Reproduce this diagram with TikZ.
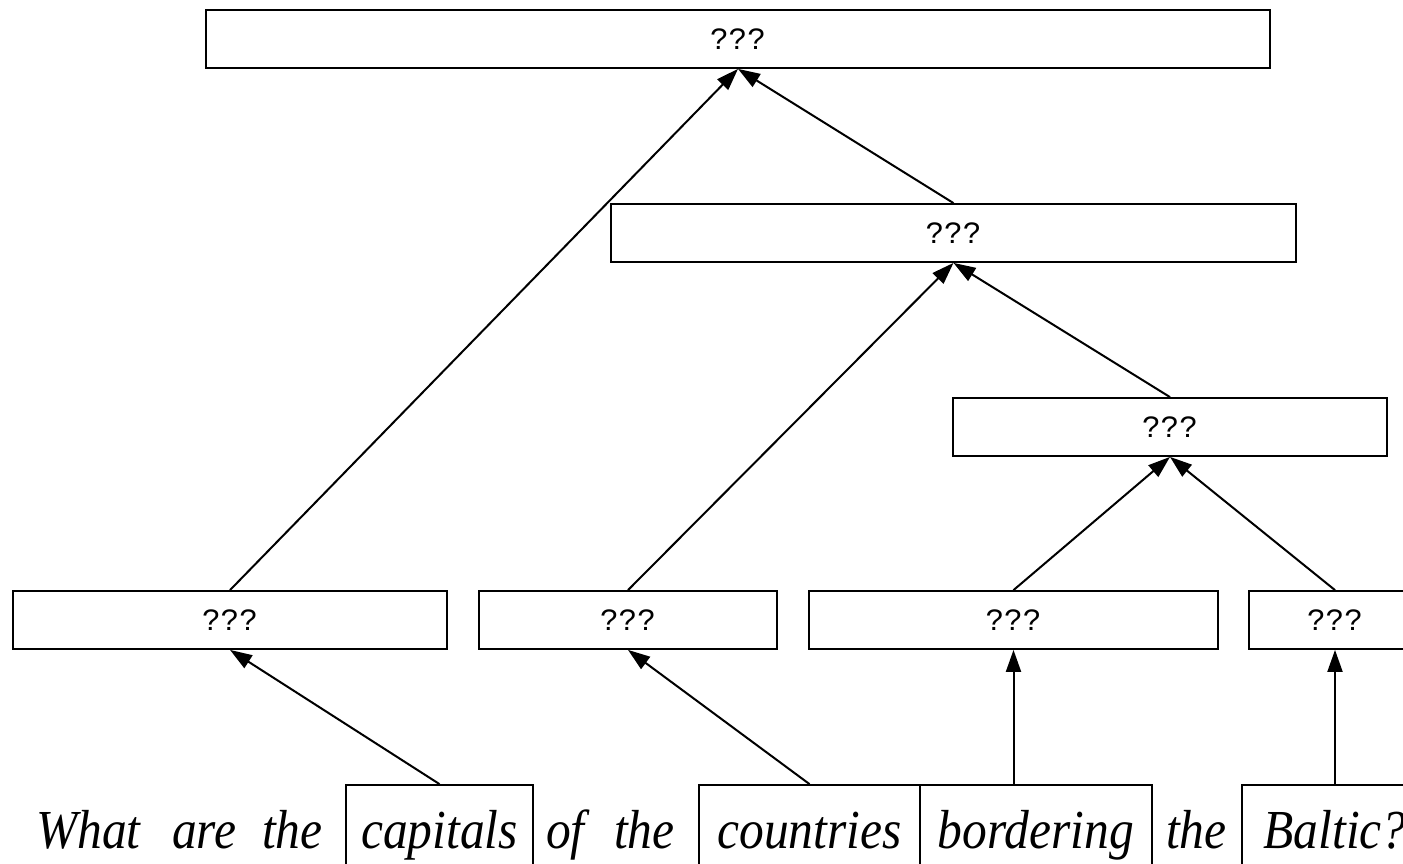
\documentclass[tikz,border=0pt]{standalone}
\usepackage{fontspec}
\setmainfont{Liberation Serif}
\newfontfamily\qfont{Liberation Mono}
\usetikzlibrary{arrows.meta}
\newcommand{\sw}[1]{\scalebox{0.9}[1]{#1}}
\begin{document}
\begin{tikzpicture}[x=1pt,y=-1pt,
  qbox/.style={draw, line width=1.8pt, minimum height=58pt, inner sep=0pt, font=\qfont\fontsize{31}{33}\selectfont},
  wordbox/.style={draw, line width=1.8pt, inner sep=0pt, anchor=base, text height=63pt, text depth=60pt, font=\fontsize{55}{60}\selectfont\itshape},
  word/.style={inner sep=0pt, anchor=base west, font=\fontsize{55}{60}\selectfont\itshape},
  arr/.style={line width=2pt, -{Triangle[length=22pt,width=15pt]}}]
\useasboundingbox (0,0) rectangle (1403,864);
\clip (0,0) rectangle (1403,864);
% ??? boxes
\node[qbox, minimum width=1064pt] (top) at (738,39) {???};
\node[qbox, minimum width=685pt] (mid) at (953.5,233) {???};
\node[qbox, minimum width=434pt] (b3top) at (1170,427) {???};
\node[qbox, minimum width=434pt] (q1) at (230,620) {???};
\node[qbox, minimum width=298pt] (q2) at (628,620) {???};
\node[qbox, minimum width=409pt] (q3) at (1013.5,620) {???};
\node[qbox, minimum width=172pt] (q4) at (1335,620) {???};
% sentence
\node[word] (w1) at (36,848) {\sw{What}};
\node[word] (w2) at (172,848) {\sw{are}};
\node[word] (w3) at (262,848) {\sw{the}};
\node[wordbox, minimum width=187pt] (capitals) at (439.5,848) {\sw{capitals}};
\node[word] (w5) at (546,848) {\sw{of}};
\node[word] (w6) at (614,848) {\sw{the}};
\node[wordbox, minimum width=221pt] (countries) at (809.5,848) {\sw{countries}};
\node[wordbox, minimum width=232pt] (bordering) at (1036,848) {\sw{bordering}};
\node[word] (w9) at (1166,848) {\sw{the}};
\node[wordbox, minimum width=186pt] (baltic) at (1335,848) {\sw{Baltic?}};
% connectors
\draw[arr] (capitals.north) -- (q1.south);
\draw[arr] (countries.north) -- (q2.south);
\draw[arr] (bordering.north -| q3.south) -- (q3.south);
\draw[arr] (baltic.north) -- (q4.south);
\draw[arr] (q3.north) -- (b3top.south);
\draw[arr] (q4.north) -- (b3top.south);
\draw[arr] (q2.north) -- (mid.south);
\draw[arr] (b3top.north) -- (mid.south);
\draw[arr] (q1.north) -- (top.south);
\draw[arr] (mid.north) -- (top.south);
\end{tikzpicture}
\end{document}
